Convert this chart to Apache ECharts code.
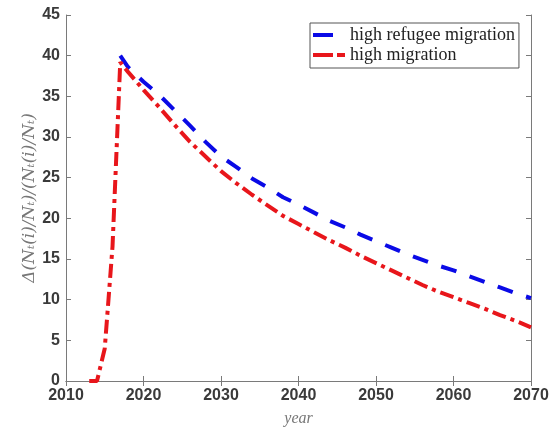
<!DOCTYPE html>
<html><head><meta charset="utf-8">
<script src="https://cdn.jsdelivr.net/npm/echarts@6/dist/echarts.min.js"></script>
<style>html,body{margin:0;padding:0;background:#fff}#c{width:555px;height:427px}</style>
</head><body><div id="c"></div>
<script>
const seriesNames = ['high refugee migration', 'high migration'];
const refugeeYears  = [2017, 2018, 2020, 2022, 2024, 2026, 2028, 2030, 2032, 2034, 2036, 2038, 2040, 2042, 2044, 2046, 2048, 2050, 2052, 2054, 2056, 2058, 2060, 2062, 2064, 2066, 2068, 2070];
const refugeeValues = [40.0, 38.6, 36.8, 35.2, 33.3, 31.4, 29.4, 27.6, 26.3, 24.9, 23.8, 22.6, 21.7, 20.7, 19.7, 18.9, 18.0, 17.2, 16.4, 15.6, 14.9, 14.2, 13.6, 12.9, 12.2, 11.5, 10.8, 10.2];
const migrationYears  = [2013, 2014, 2015, 2016, 2017, 2018, 2020, 2022, 2024, 2026, 2028, 2030, 2032, 2034, 2036, 2038, 2040, 2042, 2044, 2046, 2048, 2050, 2052, 2054, 2056, 2058, 2060, 2062, 2064, 2066, 2068, 2070];
const migrationValues = [0, 0, 4.0, 16.5, 39.2, 38.0, 35.8, 33.7, 31.5, 29.4, 27.6, 25.8, 24.3, 22.9, 21.6, 20.3, 19.3, 18.3, 17.3, 16.4, 15.4, 14.5, 13.6, 12.7, 11.8, 11.0, 10.3, 9.6, 8.9, 8.1, 7.4, 6.6];
const xAxisName = 'year';
const yAxisName = 'Δ(Nₜ(i)/Nₜ)/(Nₜ(i)/Nₜ)';

const pairs = (xs, ys) => xs.map((x, i) => [x, ys[i]]);
const axisColor = '#7a7a7a';
const labelStyle = { color: '#3a3a3a', fontSize: 16, fontWeight: 'bold', fontFamily: 'Liberation Sans, Arial, sans-serif', formatter: v => String(v) };
const blue = '#0a0ae6', red = '#e8161b';

const chart = echarts.init(document.getElementById('c'), null, { renderer: 'canvas' });
chart.setOption({
  animation: false,
  backgroundColor: '#fff',
  grid: { left: 66, right: 24, top: 15, bottom: 46, containLabel: false, outerBoundsMode: 'none' },
  legend: {
    orient: 'vertical', left: 310, top: 23,
    backgroundColor: '#fff', borderColor: '#555', borderWidth: 1,
    padding: [3, 4, 4, 3], itemGap: 2, itemWidth: 32, itemHeight: 4,
    textStyle: { fontFamily: 'Liberation Serif, Times New Roman, serif', fontSize: 18, color: '#222' },
    data: [
      { name: seriesNames[0], icon: 'path://M0,0H20V4H0Z M32,0H32V4H32Z' },
      { name: seriesNames[1], icon: 'path://M0,0H20V4H0Z M24,0H32V4H24Z' }
    ]
  },
  xAxis: [{
    type: 'value', min: 2010, max: 2070, interval: 10, position: 'bottom',
    name: xAxisName, nameLocation: 'middle', nameGap: 30, nameMoveOverlap: false,
    nameTextStyle: { fontFamily: 'Liberation Serif, serif', fontStyle: 'italic', fontSize: 16, color: '#777' },
    axisLine: { show: true, lineStyle: { color: axisColor, width: 1 } },
    axisTick: { show: true, inside: true, length: 5, lineStyle: { color: axisColor } },
    axisLabel: Object.assign({ margin: 7 }, labelStyle),
    splitLine: { show: false }
  }, {
    type: 'value', min: 2010, max: 2070, interval: 10, position: 'top',
    axisLine: { show: true, lineStyle: { color: axisColor, width: 1 } },
    axisTick: { show: true, inside: true, length: 5, lineStyle: { color: axisColor } },
    axisLabel: { show: false }, splitLine: { show: false }
  }],
  yAxis: [{
    type: 'value', min: 0, max: 45, interval: 5, position: 'left',
    name: yAxisName, nameLocation: 'middle', nameGap: 28, nameMoveOverlap: false,
    nameTextStyle: { fontFamily: 'DejaVu Serif, Liberation Serif, serif', fontStyle: 'italic', fontSize: 17, color: '#777' },
    axisLine: { show: true, lineStyle: { color: axisColor, width: 1 } },
    axisTick: { show: true, inside: true, length: 5, lineStyle: { color: axisColor } },
    axisLabel: Object.assign({ margin: 6 }, labelStyle),
    splitLine: { show: false }
  }, {
    type: 'value', min: 0, max: 45, interval: 5, position: 'right',
    axisLine: { show: true, lineStyle: { color: axisColor, width: 1 } },
    axisTick: { show: true, inside: true, length: 5, lineStyle: { color: axisColor } },
    axisLabel: { show: false }, splitLine: { show: false }
  }],
  series: [{
    name: seriesNames[0], type: 'line', xAxisIndex: 0, yAxisIndex: 0,
    data: pairs(refugeeYears, refugeeValues), smooth: false, showSymbol: false, symbol: 'none',
    color: blue, itemStyle: { color: blue },
    lineStyle: { color: blue, width: 4, type: [16, 14], cap: 'butt' }
  }, {
    name: seriesNames[1], type: 'line', xAxisIndex: 0, yAxisIndex: 0,
    data: pairs(migrationYears, migrationValues), smooth: false, showSymbol: false, symbol: 'none',
    color: red, itemStyle: { color: red },
    lineStyle: { color: red, width: 4, type: [14, 5, 4, 5], cap: 'butt' }
  }]
});
</script></body></html>
